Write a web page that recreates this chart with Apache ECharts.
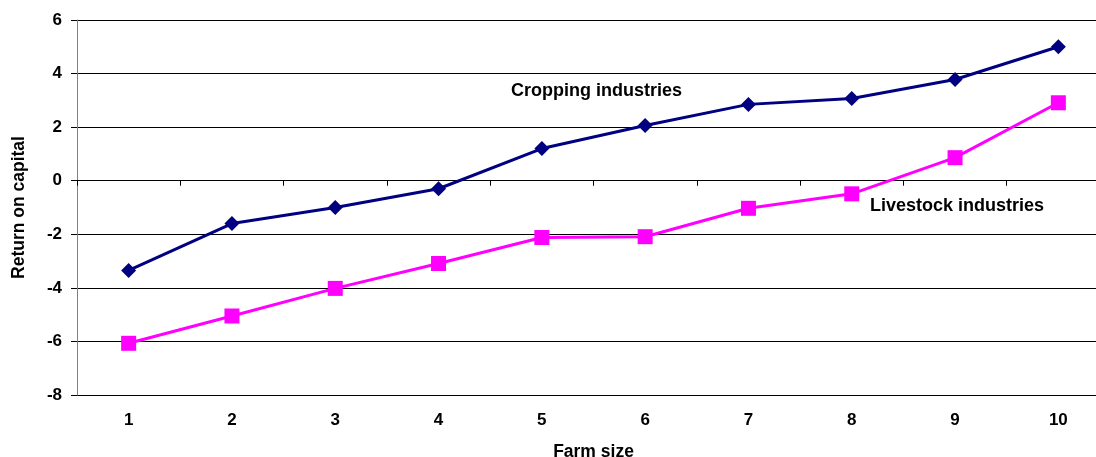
<!DOCTYPE html>
<html>
<head>
<meta charset="utf-8">
<script src="https://cdn.jsdelivr.net/npm/echarts@6/dist/echarts.min.js"></script>
<style>
  html, body { margin: 0; padding: 0; background: #fff; overflow: hidden; }
  #chart { width: 1096px; height: 457px; }
</style>
</head>
<body>
<div id="chart"></div>
<script>
// Farm size deciles and return on capital by industry group
const farmSizes = ['1', '2', '3', '4', '5', '6', '7', '8', '9', '10'];
const cropping = [-3.35, -1.6, -1.0, -0.3, 1.2, 2.06, 2.85, 3.07, 3.78, 5.0];
const livestock = [-6.07, -5.05, -4.02, -3.09, -2.12, -2.09, -1.03, -0.49, 0.86, 2.91];
const yMin = -8, yMax = 6, yStep = 2;

const FONT = 'Liberation Sans, Arial, sans-serif';
const chart = echarts.init(document.getElementById('chart'), null, { renderer: 'canvas' });

const labelText = { color: '#000', fontSize: 17, fontWeight: 'bold', fontFamily: FONT };
const titleText = { color: '#000', fontSize: 17.5, fontWeight: 'bold', fontFamily: FONT };

chart.setOption({
  animation: false,
  backgroundColor: '#ffffff',
  textStyle: { fontFamily: FONT },
  // the plot area runs a little past the right edge of the canvas
  grid: {
    left: 77, top: 20, width: 1033, height: 375,
    containLabel: false,
    outerBoundsMode: 'none'
  },
  xAxis: [
    {
      // axis line crossing at zero, with tick marks between categories
      type: 'category',
      data: farmSizes,
      boundaryGap: true,
      axisLine: { onZero: true, lineStyle: { color: '#000', width: 1 } },
      axisTick: { show: true, inside: false, length: 5, lineStyle: { color: '#000' } },
      axisLabel: { show: false },
      splitLine: { show: false }
    },
    {
      // category labels along the bottom of the plot
      type: 'category',
      data: farmSizes,
      position: 'bottom',
      boundaryGap: true,
      axisLine: { show: false, onZero: false },
      axisTick: { show: false },
      axisLabel: Object.assign({ show: true, margin: 17 }, labelText),
      name: 'Farm size',
      nameLocation: 'middle',
      nameGap: 48,
      nameTextStyle: titleText
    }
  ],
  yAxis: {
    type: 'value',
    min: yMin,
    max: yMax,
    interval: yStep,
    axisLine: { show: true, lineStyle: { color: '#808080', width: 1 } },
    axisTick: { show: true, inside: false, length: 6, lineStyle: { color: '#000' } },
    axisLabel: Object.assign({ margin: 15 }, labelText),
    splitLine: { show: true, lineStyle: { color: '#000', width: 1 } },
    name: 'Return on capital',
    nameLocation: 'middle',
    nameGap: 49,
    nameTextStyle: titleText
  },
  series: [
    {
      name: 'Cropping industries',
      type: 'line',
      xAxisIndex: 0,
      data: cropping,
      symbol: 'diamond',
      symbolSize: 15,
      lineStyle: { color: '#000080', width: 3 },
      itemStyle: { color: '#000080' },
      z: 3
    },
    {
      name: 'Livestock industries',
      type: 'line',
      xAxisIndex: 0,
      data: livestock,
      symbol: 'rect',
      symbolSize: 15,
      lineStyle: { color: '#ff00ff', width: 3 },
      itemStyle: { color: '#ff00ff' },
      z: 3
    }
  ],
  graphic: [
    {
      type: 'text', left: 511, top: 82,
      style: { text: 'Cropping industries', fill: '#000', font: 'bold 18px ' + FONT }
    },
    {
      type: 'text', left: 870, top: 197,
      style: { text: 'Livestock industries', fill: '#000', font: 'bold 18px ' + FONT }
    }
  ]
});
</script>
</body>
</html>
